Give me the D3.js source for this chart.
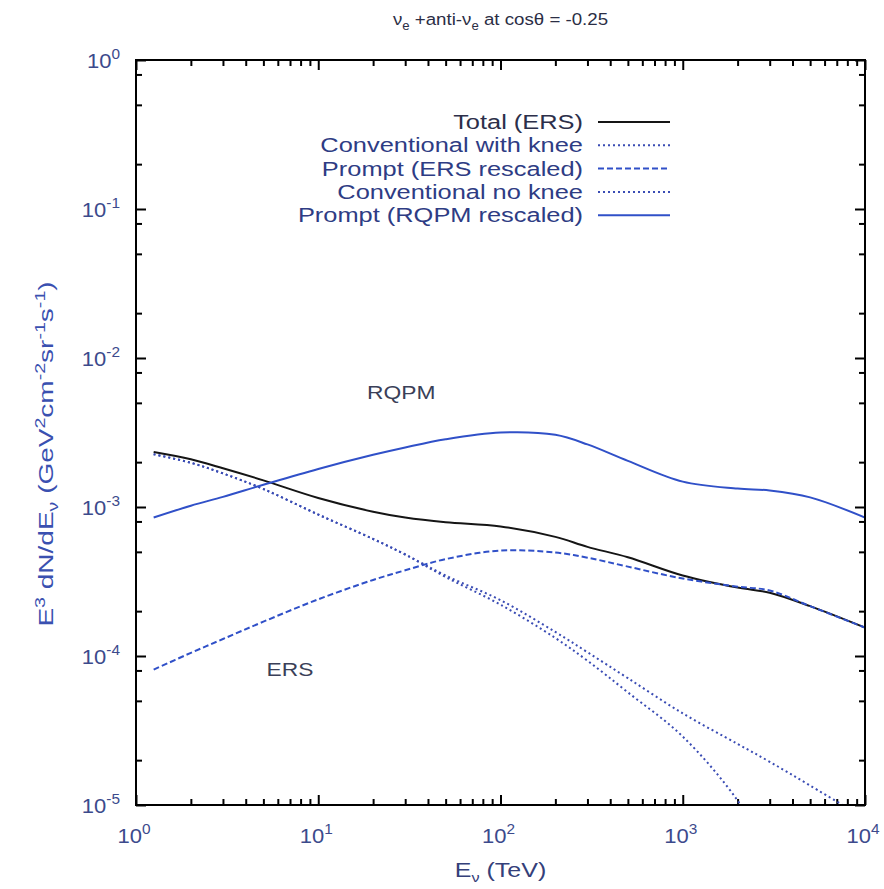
<!DOCTYPE html>
<html>
<head>
<meta charset="utf-8">
<script src="https://cdn.jsdelivr.net/npm/d3@7"></script>
<style>
body { margin: 0; background: #fff; }
text { font-family: "Liberation Sans", Arial, sans-serif; }
</style>
</head>
<body>
<svg id="chart"></svg>
<script>
// energies (TeV) shared by all curves
const energy = [1.25, 2, 3, 5, 10, 20, 30, 50, 100, 200, 300, 500, 1000, 2000, 3000, 5000, 10000];

// E^3 dN/dE values
const totalERS   = [2.34e-3, 2.09e-3, 1.82e-3, 1.51e-3, 1.15e-3, 9.3e-4, 8.5e-4, 7.9e-4, 7.4e-4, 6.3e-4, 5.4e-4, 4.6e-4, 3.47e-4, 2.88e-4, 2.66e-4, 2.16e-4, 1.55e-4];
const convKnee   = [2.26e-3, 1.98e-3, 1.68e-3, 1.32e-3, 8.9e-4, 6.1e-4, 4.8e-4, 3.39e-4, 2.21e-4, 1.32e-4, 9.3e-5, 5.7e-5, 2.88e-5, 1.07e-5, 4.5e-6, 1.0e-6, 6.3e-8];
const promptERS  = [8.1e-5, 1.05e-4, 1.30e-4, 1.70e-4, 2.4e-4, 3.24e-4, 3.76e-4, 4.47e-4, 5.1e-4, 4.95e-4, 4.57e-4, 3.98e-4, 3.31e-4, 2.92e-4, 2.75e-4, 2.16e-4, 1.55e-4];
const convNoKnee = [2.26e-3, 1.98e-3, 1.68e-3, 1.32e-3, 8.9e-4, 6.1e-4, 4.8e-4, 3.47e-4, 2.37e-4, 1.45e-4, 1.06e-4, 7.1e-5, 4.12e-5, 2.57e-5, 1.95e-5, 1.35e-5, 8.1e-6];
const promptRQPM = [8.5e-4, 1.02e-3, 1.17e-3, 1.41e-3, 1.80e-3, 2.24e-3, 2.51e-3, 2.85e-3, 3.16e-3, 3.05e-3, 2.63e-3, 2.04e-3, 1.48e-3, 1.33e-3, 1.29e-3, 1.16e-3, 8.5e-4];

const seriesNames = ["Total (ERS)", "Conventional with knee", "Prompt (ERS rescaled)", "Conventional no knee", "Prompt (RQPM rescaled)"];

const xTickExps = [0, 1, 2, 3, 4];
const yTickExps = [-5, -4, -3, -2, -1, 0];

const width = 884, height = 889;
const margin = {left: 136, right: 19, top: 60, bottom: 84};
const W = width - margin.left - margin.right;
const H = height - margin.top - margin.bottom;

const svg = d3.select("#chart").attr("width", width).attr("height", height);
const g = svg.append("g").attr("transform", `translate(${margin.left},${margin.top})`);

const x = d3.scaleLog().domain([1, 1e4]).range([0, W]);
const y = d3.scaleLog().domain([1e-5, 1]).range([H, 0]);

const blue = "#3050c8";
const styles = [
  {color: "#151515", dash: null},
  {color: "#3a4cb4", dash: "2,3"},
  {color: blue, dash: "6,3"},
  {color: "#3a4cb4", dash: "2,3"},
  {color: blue, dash: null}
];
const allSeries = [totalERS, convKnee, promptERS, convNoKnee, promptRQPM];

// ticks
const majorX = xTickExps.map(e => Math.pow(10, e));
const majorY = yTickExps.map(e => Math.pow(10, e));
const minorX = [], minorY = [];
xTickExps.slice(0, -1).forEach(e => { for (let m = 2; m <= 9; m++) minorX.push(m * Math.pow(10, e)); });
yTickExps.slice(0, -1).forEach(e => { [2, 5, 8].forEach(m => minorY.push(m * Math.pow(10, e))); });

function drawAxis(axisFn, scale, vals, size, transform) {
  const a = g.append("g").attr("transform", transform)
    .call(axisFn(scale).tickValues(vals).tickSize(-size).tickFormat(""));
  a.select(".domain").remove();
  a.selectAll("line").attr("stroke", "#000").attr("stroke-width", 2);
}
[[majorX, 10], [minorX, 6]].forEach(([v, s]) => {
  drawAxis(d3.axisBottom, x, v, s, `translate(0,${H})`);
  drawAxis(d3.axisTop, x, v, s, "translate(0,0)");
});
[[majorY, 10], [minorY, 6]].forEach(([v, s]) => {
  drawAxis(d3.axisLeft, y, v, s, "translate(0,0)");
  drawAxis(d3.axisRight, y, v, s, `translate(${W},0)`);
});

const labelColor = "#3c4a8c";
// x tick labels
xTickExps.forEach(e => {
  const t = g.append("text")
    .attr("transform", `translate(${x(Math.pow(10, e)) - 2},${H + 38}) scale(1.1,1)`)
    .attr("text-anchor", "middle").attr("fill", labelColor).style("font-size", "20px");
  t.append("tspan").text("10");
  t.append("tspan").attr("dy", -9).style("font-size", "14px").text(e);
});
// y tick labels
yTickExps.forEach(e => {
  const t = g.append("text")
    .attr("transform", `translate(-16,${y(Math.pow(10, e)) + 8}) scale(1.1,1)`)
    .attr("text-anchor", "end").attr("fill", labelColor).style("font-size", "20px");
  t.append("tspan").text("10");
  t.append("tspan").attr("dy", -9).style("font-size", "14px").text(e);
});

// curves
g.append("clipPath").attr("id", "clip").append("rect").attr("width", W).attr("height", H);
const line = d3.line().x(d => x(d[0])).y(d => y(d[1])).curve(d3.curveCatmullRom.alpha(0.5));
allSeries.forEach((vals, i) => {
  g.append("path")
    .datum(energy.map((e, j) => [e, vals[j]]))
    .attr("clip-path", "url(#clip)")
    .attr("d", line)
    .attr("fill", "none")
    .attr("stroke", styles[i].color)
    .attr("stroke-width", 2)
    .attr("stroke-dasharray", styles[i].dash);
});

// frame
g.append("rect").attr("width", W).attr("height", H)
  .attr("fill", "none").attr("stroke", "#000").attr("stroke-width", 2);

// legend
const legend = g.append("g");
seriesNames.forEach((name, i) => {
  const cy = 62 + i * 23.3;
  legend.append("text").attr("transform", `translate(447,${cy + 7}) scale(1.27,1)`)
    .attr("text-anchor", "end").attr("fill", i === 0 ? "#2c2f4a" : "#2e3c84")
    .style("font-size", "20px").text(name);
  legend.append("line").attr("x1", 462).attr("x2", 534).attr("y1", cy).attr("y2", cy)
    .attr("stroke", styles[i].color).attr("stroke-width", 2)
    .attr("stroke-dasharray", styles[i].dash);
});

// curve labels
g.append("text").attr("transform", `translate(${x(30) - 4},${y(3.2e-3) - 33}) scale(1.2,1)`)
  .attr("text-anchor", "middle").attr("fill", "#3a3f58").style("font-size", "19px").text("RQPM");
g.append("text").attr("transform", `translate(${x(7)},${y(1e-4) + 20}) scale(1.2,1)`)
  .attr("text-anchor", "middle").attr("fill", "#3a3f58").style("font-size", "19px").text("ERS");

// title
const title = svg.append("text").attr("transform", `translate(${margin.left + W / 2},25) scale(1.1,1)`)
  .attr("text-anchor", "middle").attr("fill", "#2b2e45").style("font-size", "17px");
title.append("tspan").text("ν");
title.append("tspan").attr("dy", 5).style("font-size", "12px").text("e");
title.append("tspan").attr("dy", -5).text(" +anti-ν");
title.append("tspan").attr("dy", 5).style("font-size", "12px").text("e");
title.append("tspan").attr("dy", -5).text(" at cosθ = -0.25");

// x label
const xl = svg.append("text").attr("transform", `translate(${margin.left + W / 2},877) scale(1.25,1)`)
  .attr("text-anchor", "middle").attr("fill", "#34407a").style("font-size", "20px");
xl.append("tspan").text("E");
xl.append("tspan").attr("dy", 5).style("font-size", "13px").text("ν");
xl.append("tspan").attr("dy", -5).text(" (TeV)");

// y label
const yl = svg.append("text").attr("transform", "translate(53,454) rotate(-90) scale(1.4,1)")
  .attr("text-anchor", "middle").attr("fill", "#3a50b0").style("font-size", "20px");
yl.append("tspan").text("E");
yl.append("tspan").attr("dy", -8).style("font-size", "14px").text("3");
yl.append("tspan").attr("dy", 8).text(" dN/dE");
yl.append("tspan").attr("dy", 5).style("font-size", "14px").text("ν");
yl.append("tspan").attr("dy", -5).text(" (GeV");
yl.append("tspan").attr("dy", -8).style("font-size", "14px").text("2");
yl.append("tspan").attr("dy", 8).text("cm");
yl.append("tspan").attr("dy", -8).style("font-size", "14px").text("-2");
yl.append("tspan").attr("dy", 8).text("sr");
yl.append("tspan").attr("dy", -8).style("font-size", "14px").text("-1");
yl.append("tspan").attr("dy", 8).text("s");
yl.append("tspan").attr("dy", -8).style("font-size", "14px").text("-1");
yl.append("tspan").attr("dy", 8).text(")");
</script>
</body>
</html>
